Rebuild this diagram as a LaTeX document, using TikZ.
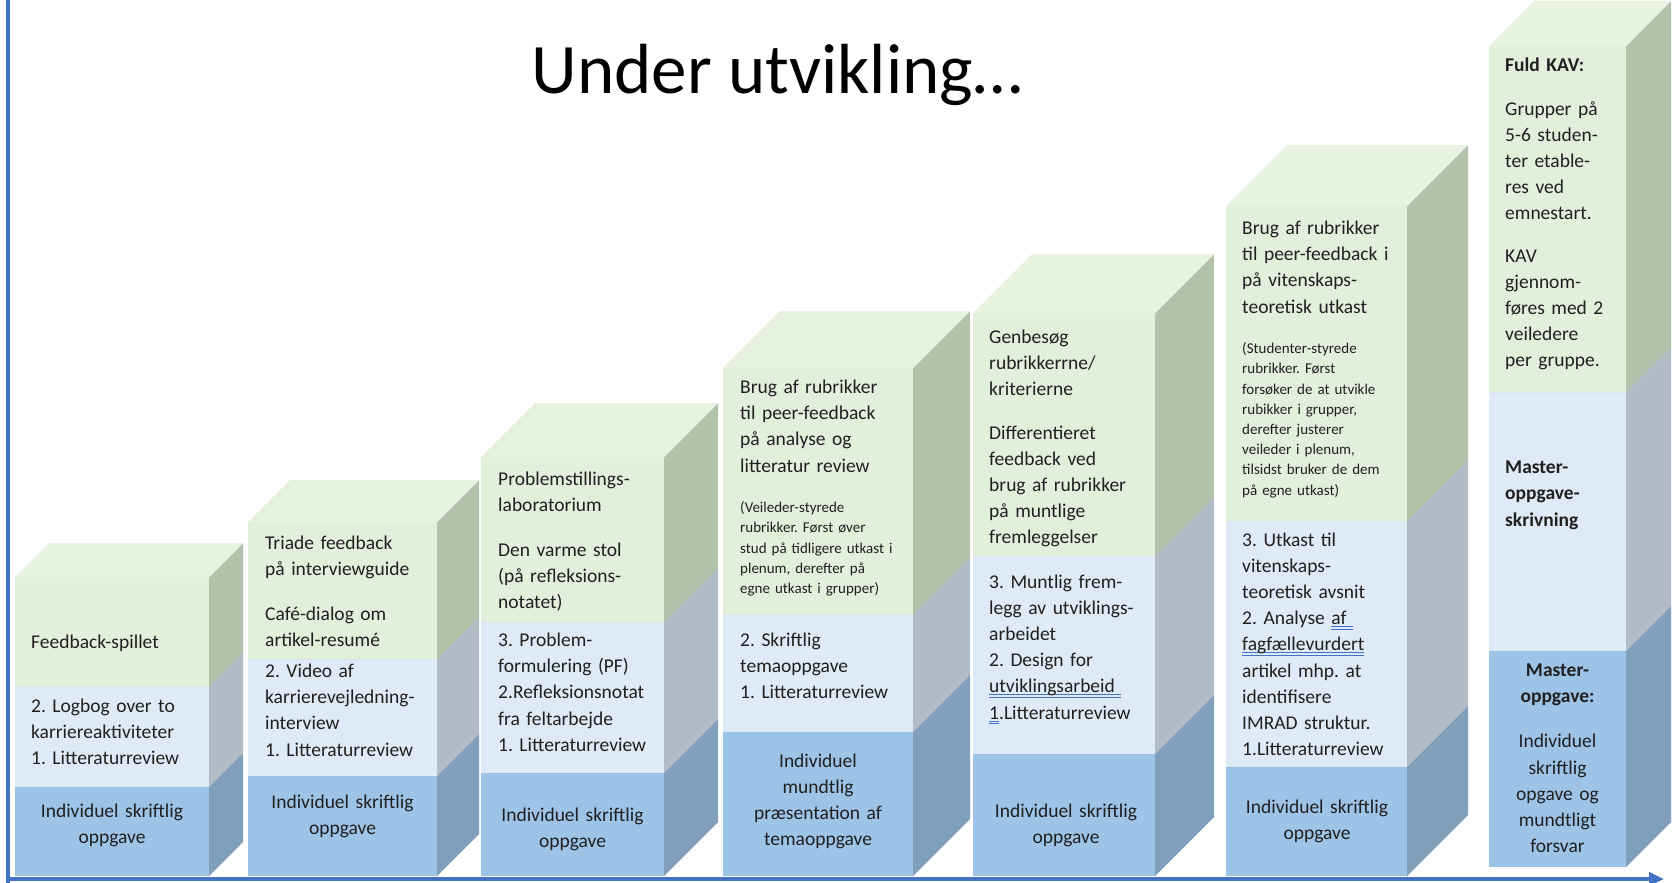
\documentclass[tikz,border=0pt]{standalone}
\usepackage{fontspec}
\setmainfont{Carlito}
\frenchspacing
\usetikzlibrary{arrows.meta}
\definecolor{axisblue}{HTML}{4472C4}
\definecolor{gfront}{HTML}{E2EFDA}
\definecolor{gtop}{HTML}{E8F2E0}
\definecolor{gside}{HTML}{B4C2AB}
\definecolor{lfront}{HTML}{DEEAF6}
\definecolor{lside}{HTML}{B3BCC6}
\definecolor{bfront}{HTML}{9DC3E6}
\definecolor{bside}{HTML}{7F9FBA}
\definecolor{txtcol}{HTML}{202020}
\newcommand\cub[8]{%
  \fill[#6] (#1,#4) rectangle (#2,#3);
  \fill[#7] (#2,#4) -- (#2+#5,#4-#5) -- (#2+#5,#3-#5) -- (#2,#3) -- cycle;
  \fill[#8] (#1,#3) -- (#1+#5,#3-#5) -- (#2+#5,#3-#5) -- (#2,#3) -- cycle;
}
\newcommand\stackcol[7]{%
  \cub{#1}{#2}{#6}{#7}{#3}{bfront}{bside}{bside}
  \cub{#1}{#2}{#5}{#6}{#3}{lfront}{lside}{lside}
  \cub{#1}{#2}{#4}{#5}{#3}{gfront}{gside}{gtop}
}
\newcommand\dbl[1]{\leavevmode\setbox0=\hbox{#1}\rlap{\textcolor{axisblue}{\rule[-2.5pt]{\wd0}{0.9pt}}}\rlap{\textcolor{axisblue}{\rule[-5pt]{\wd0}{0.9pt}}}\box0}
\begin{document}
\begin{tikzpicture}[x=1pt,y=-1pt,
  big/.style={anchor=base west, inner sep=0pt, text width=300pt, align=left, text=txtcol, font=\fontsize{19.5}{26.2}\selectfont},
  small/.style={anchor=base west, inner sep=0pt, text width=300pt, align=left, text=txtcol, font=\fontsize{15}{20.2}\selectfont},
  mid/.style={anchor=base, inner sep=0pt, text width=220pt, align=center, text=txtcol, font=\fontsize{19.5}{26.2}\selectfont},
  axisline/.style={draw=axisblue, line width=4pt}]
\useasboundingbox[fill=white] (0,0) rectangle (1674,883);

% columns: x0 x1 depth ytop ygreen/light ylight/blue ybottom
\stackcol{15}{209}{34}{577}{686}{787}{876}
\stackcol{248}{437}{42}{522}{659}{776}{876}
\stackcol{481}{664}{54}{457}{622}{773}{876}
\stackcol{723}{913}{57}{368}{614}{732}{876}
\stackcol{973}{1155}{59}{313}{556}{754}{876}
\stackcol{1226}{1407}{61}{206}{521}{767}{876}
\stackcol{1489}{1626}{45}{46}{392}{651}{867}

% axes
\coordinate (ay) at (8,0);
\coordinate (ayb) at (8,883);
\coordinate (ax0) at (6,879);
\coordinate (ax1) at (1664,879);
\draw[axisline] (ay) -- (ayb);
\draw[axisline, -{Triangle[length=15pt,width=13pt]}] (ax0) -- (ax1);

% title
\node[anchor=base, inner sep=0pt, font=\fontsize{71}{80}\selectfont, text=black] (title) at (777,94) {Under utvikling…};

% column 1
\node[big] (t1a) at (31,648) {Feedback-spillet};
\node[big] (t1b) at (31,712) {2. Logbog over to\\karriereaktiviteter\\1. Litteraturreview};
\node[mid] (t1c) at (112,817) {Individuel skriftlig\\oppgave};

% column 2
\node[big] (t2a) at (265,549) {Triade feedback\\på interviewguide\\[19pt]Café-dialog om\\artikel-resumé};
\node[big] (t2b) at (265,677.5) {2. Video af\\karrierevejledning-\\interview\\1. Litteraturreview};
\node[mid] (t2c) at (342.5,808) {Individuel skriftlig\\oppgave};

% column 3
\node[big] (t3a) at (498,485) {Problemstillings-\\laboratorium\\[19pt]Den varme stol\\(på refleksions-\\notatet)};
\node[big] (t3b) at (498,646.5) {3. Problem-\\formulering (PF)\\2.Refleksionsnotat\\fra feltarbejde\\1. Litteraturreview};
\node[mid] (t3c) at (572.5,821.5) {Individuel skriftlig\\oppgave};

% column 4
\node[big] (t4a) at (740,393.5) {Brug af rubrikker\\til peer-feedback\\på analyse og\\litteratur review};
\node[small] (t4b) at (740,512.7) {(Veileder-styrede\\rubrikker. Først øver\\stud på tidligere utkast i\\plenum, derefter på\\egne utkast i grupper)};
\node[big] (t4c) at (740,646.5) {2. Skriftlig\\temaoppgave\\1. Litteraturreview};
\node[mid] (t4d) at (818,767) {Individuel\\mundtlig\\præsentation af\\temaoppgave};

% column 5
\node[big] (t5a) at (989,343) {Genbesøg\\rubrikkerrne/\\kriterierne\\[17.5pt]Differentieret\\feedback ved\\brug af rubrikker\\på muntlige\\fremleggelser};
\node[big] (t5b) at (989,588) {3. Muntlig frem-\\legg av utviklings-\\arbeidet\\2. Design for\\\dbl{utviklingsarbeid~}\\\dbl{1}.Litteraturreview};
\node[mid] (t5c) at (1066,817) {Individuel skriftlig\\oppgave};

% column 6
\node[big] (t6a) at (1242,234.5) {Brug af rubrikker\\til peer-feedback i\\på vitenskaps-\\teoretisk utkast};
\node[small] (t6b) at (1242,353.6) {(Studenter-styrede\\rubrikker. Først\\forsøker de at utvikle\\rubikker i grupper,\\derefter justerer\\veileder i plenum,\\tilsidst bruker de dem\\på egne utkast)};
\node[big] (t6c) at (1242,546) {3. Utkast til\\vitenskaps-\\teoretisk avsnit\\2. Analyse \dbl{af~}\\\dbl{fagfællevurdert}\\artikel mhp. at\\identifisere\\IMRAD struktur.\\1.Litteraturreview};
\node[mid] (t6d) at (1317,813) {Individuel skriftlig\\oppgave};

% column 7
\node[big] (t7a) at (1505,71) {\textbf{Fuld KAV:}\\[18pt]Grupper på\\5-6 studen-\\ter etable-\\res ved\\emnestart.\\[16pt]KAV\\gjennom-\\føres med 2\\veiledere\\per gruppe.};
\node[big] (t7b) at (1505,473.6) {\textbf{Master-}\\\textbf{oppgave-}\\\textbf{skrivning}};
\node[mid] (t7c) at (1557.5,676.5) {\textbf{Master-}\\\textbf{oppgave:}\\[19pt]Individuel\\skriftlig\\opgave og\\mundtligt\\forsvar};
\end{tikzpicture}
\end{document}
